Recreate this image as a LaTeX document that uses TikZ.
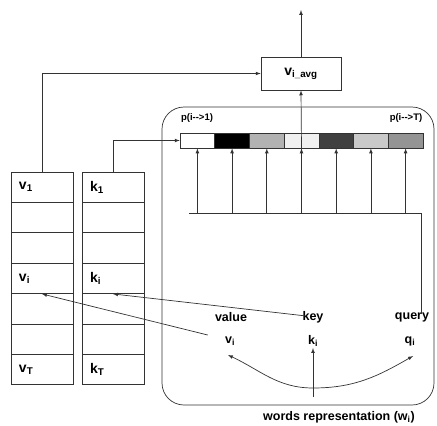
\documentclass[tikz,border=0pt]{standalone}
\usepackage{fontspec}
\setmainfont{Liberation Sans}
\usetikzlibrary{arrows,calc,positioning}

\tikzset{
  cell/.style={draw, minimum width=62pt, minimum height=30.4pt, inner sep=0pt,
    text width=46pt, align=left, font=\fontsize{14}{16}\selectfont\bfseries},
  pcell/.style={draw, minimum width=34.7pt, minimum height=15pt, inner sep=0pt},
  lbl/.style={inner sep=1pt, font=\fontsize{12.5}{14}\selectfont\bfseries},
  plbl/.style={inner sep=0pt, font=\fontsize{9.5}{11}\selectfont\bfseries},
}

\begin{document}
\begin{tikzpicture}[x=1pt,y=-1pt,>=latex,line width=0.7pt,draw=black!80]
      \useasboundingbox (0,0) rectangle (437,426);
      % value and key memory
      \node[cell] (v1) at (42,187.2) {v\textsubscript{1}};
      \node[cell] (v2) at (42,217.6) {};
      \node[cell] (v3) at (42,248.0) {};
      \node[cell] (v4) at (42,278.4) {v\textsubscript{i}};
      \node[cell] (v5) at (42,308.8) {};
      \node[cell] (v6) at (42,339.2) {};
      \node[cell] (v7) at (42,369.6) {v\textsubscript{T}};
      \node[cell] (k1) at (113,187.2) {k\textsubscript{1}};
      \node[cell] (k2) at (113,217.6) {};
      \node[cell] (k3) at (113,248.0) {};
      \node[cell] (k4) at (113,278.4) {k\textsubscript{i}};
      \node[cell] (k5) at (113,308.8) {};
      \node[cell] (k6) at (113,339.2) {};
      \node[cell] (k7) at (113,369.6) {k\textsubscript{T}};
      % weighted average
      \node[draw, minimum width=80pt, minimum height=33pt, inner sep=0pt,
        font=\fontsize{14}{16}\selectfont\bfseries] (vavg) at (301,73.5) {v\textsubscript{i\_avg}};
      \coordinate (out) at (301,10);
      % attention block
      \draw[rounded corners=22pt] (162,107) rectangle (434,405);
      \node[plbl] (p1) at (197,118) {p(i{-}{-}>1)};
      \node[plbl] (pT) at (406,118) {p(i{-}{-}>T)};
      \node[pcell, fill=white] (b1) at (197.4,140.5) {};
      \node[pcell, fill=black] (b2) at (232.1,140.5) {};
      \node[pcell, fill=black!30] (b3) at (266.8,140.5) {};
      \node[pcell, fill=black!6] (b4) at (301.5,140.5) {};
      \node[pcell, fill=black!75] (b5) at (336.2,140.5) {};
      \node[pcell, fill=black!21] (b6) at (370.9,140.5) {};
      \node[pcell, fill=black!42] (b7) at (405.6,140.5) {};
      \coordinate (hl) at (189,213);
      \coordinate (hr) at (421,213);
      % words representation
      \node[lbl] (value) at (231,317) {value};
      \node[lbl] (key) at (313,317) {key};
      \node[lbl] (query) at (412,317) {query};
      \node[lbl] (vi) at (230,341) {v\textsubscript{i}};
      \node[lbl] (ki) at (313,341) {k\textsubscript{i}};
      \node[lbl] (qi) at (410,341) {q\textsubscript{i}};
      \coordinate (wi) at (313,397);
      \coordinate (bot) at (313,388);
      \node[lbl] (words) at (339,417) {words representation (w\textsubscript{i})};
      % connections
      \draw [->] (vavg.north) -- (out);
      \draw [->] (v1.north) |- (vavg.west);
      \draw [->] (k1.north) |- (b1.west);
      \draw [->] (b4.south) -- (vavg.south);
      \draw (hl) -- (hr) -- (421,314);
      \draw [->] (b1.south|-hl) -- (b1.south);
      \draw [->] (b2.south|-hl) -- (b2.south);
      \draw [->] (b3.south|-hl) -- (b3.south);
      \draw [->] (b4.south|-hl) -- (b4.south);
      \draw [->] (b5.south|-hl) -- (b5.south);
      \draw [->] (b6.south|-hl) -- (b6.south);
      \draw [->] (b7.south|-hl) -- (b7.south);
      \draw [->] ($(key.west)+(5,-1)$) -- (k4.south);
      \draw [->] ($(vi.west)+(-16,-6)$) -- (v4.south);
      \draw [<->] (228,355) to[out=-25,in=180] (bot) to[out=0,in=-150] (413,356);
      \draw [->] (wi) -- (ki.south);
\end{tikzpicture}
\end{document}
